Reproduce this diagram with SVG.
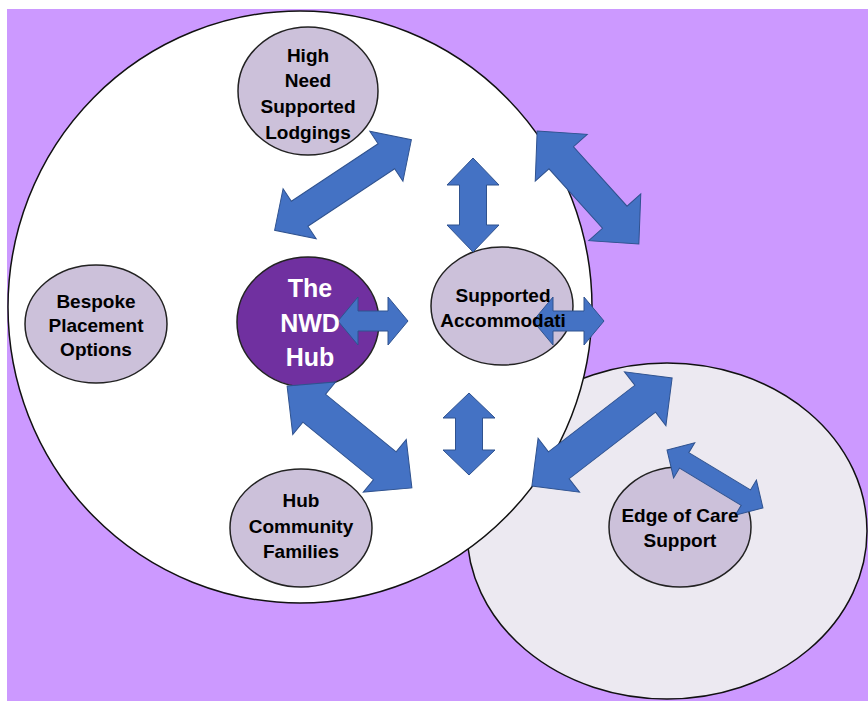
<svg xmlns="http://www.w3.org/2000/svg" width="868" height="701" viewBox="0 0 868 701">
  <style>
    .node { fill: #CCC1DA; stroke: #222; stroke-width: 1.5; }
    .hub { fill: #7030A0; stroke: #222; stroke-width: 1.5; }
    .zone { stroke: #111; stroke-width: 1.5; }
    .arrow { fill: #4472C4; stroke: #2F528F; stroke-width: 1; stroke-linejoin: miter; }
    .label { font-family: "Liberation Sans", Arial, sans-serif; font-weight: bold; font-size: 19px; fill: #000; text-anchor: middle; }
    .hub-label { font-family: "Liberation Sans", Arial, sans-serif; font-weight: bold; font-size: 25px; fill: #fff; text-anchor: middle; }
  </style>

  <!-- page background -->
  <rect x="0" y="0" width="868" height="701" fill="#ffffff"/>
  <rect x="7" y="9" width="861" height="692" fill="#CC99FF"/>

  <!-- outer zones -->
  <g id="zones">
    <ellipse id="edge-zone" class="zone" cx="667" cy="531" rx="200" ry="168" fill="#ECE9F1"/>
    <ellipse id="hub-zone" class="zone" cx="300" cy="307" rx="292" ry="296" fill="#ffffff"/>
  </g>

  <!-- node shapes -->
  <g id="node-lodgings"><ellipse class="node" cx="308" cy="91" rx="70" ry="64"/></g>
  <g id="node-bespoke"><ellipse class="node" cx="96" cy="324" rx="71" ry="59"/></g>
  <g id="node-hub"><ellipse class="hub" cx="308" cy="322" rx="71" ry="65"/></g>
  <g id="node-accommodation"><ellipse class="node" cx="502" cy="306" rx="71" ry="59"/></g>
  <g id="node-community"><ellipse class="node" cx="301" cy="528" rx="71" ry="59"/></g>
  <g id="node-edge"><ellipse class="node" cx="680" cy="527" rx="71" ry="60"/></g>

  <!-- double-headed block arrows, each drawn along x and rotated into place -->
  <g id="connectors">
    <!-- lodgings <-> hub: L164 a30 h30 s15 -->
    <polygon class="arrow" transform="translate(343 185) rotate(-33.5)" points="-82,0 -52,-30 -52,-15 52,-15 52,-30 82,0 52,30 52,15 -52,15 -52,30"/>
    <!-- lodgings <-> accommodation (vertical): L94 a27 h26 s13.5 -->
    <polygon class="arrow" transform="translate(473 205) rotate(90)" points="-47,0 -20,-26 -20,-13.5 20,-13.5 20,-26 47,0 20,26 20,13.5 -20,13.5 -20,26"/>
    <!-- upper outward diagonal: L152 a36 h35 s16.5 -->
    <polygon class="arrow" transform="translate(588 187.5) rotate(48)" points="-76,0 -40,-35 -40,-16.5 40,-16.5 40,-35 76,0 40,35 40,16.5 -40,16.5 -40,35"/>
    <!-- hub <-> accommodation: L70 a20 h24 s10 -->
    <polygon class="arrow" transform="translate(373 321)" points="-35,0 -15,-24 -15,-10 15,-10 15,-24 35,0 15,24 15,10 -15,10 -15,24"/>
    <!-- accommodation <-> outside: L71 a20 h24 s10 -->
    <polygon class="arrow" transform="translate(568.5 321)" points="-35.5,0 -15.5,-24 -15.5,-10 15.5,-10 15.5,-24 35.5,0 15.5,24 15.5,10 -15.5,10 -15.5,24"/>
    <!-- hub <-> community: L161 a35 h34 s18 -->
    <polygon class="arrow" transform="translate(349.5 437) rotate(39.2)" points="-80.5,0 -45.5,-34 -45.5,-18 45.5,-18 45.5,-34 80.5,0 45.5,34 45.5,18 -45.5,18 -45.5,34"/>
    <!-- accommodation <-> community (vertical): L82 a25 h26 s13.5 -->
    <polygon class="arrow" transform="translate(469 434) rotate(90)" points="-41,0 -16,-26 -16,-13.5 16,-13.5 16,-26 41,0 16,26 16,13.5 -16,13.5 -16,26"/>
    <!-- hub zone <-> edge of care zone: L177 a34 h34 s17 -->
    <polygon class="arrow" transform="translate(602 432) rotate(-37.6)" points="-88.5,0 -54.5,-34 -54.5,-17 54.5,-17 54.5,-34 88.5,0 54.5,34 54.5,17 -54.5,17 -54.5,34"/>
    <!-- edge of care link: L112 a20 h20.5 s9 -->
    <polygon class="arrow" transform="translate(715 479) rotate(31.1)" points="-56,0 -36,-20.5 -36,-9 36,-9 36,-20.5 56,0 36,20.5 36,9 -36,9 -36,20.5"/>
  </g>

  <!-- node labels -->
  <g id="labels">
    <text class="label" x="308"><tspan x="308" y="62">High</tspan><tspan x="308" y="87">Need</tspan><tspan x="308" y="113">Supported</tspan><tspan x="308" y="139">Lodgings</tspan></text>
    <text class="label"><tspan x="96" y="308">Bespoke</tspan><tspan x="96" y="332">Placement</tspan><tspan x="96" y="356">Options</tspan></text>
    <text class="hub-label"><tspan x="310" y="297">The</tspan><tspan x="310" y="332">NWD</tspan><tspan x="310" y="366">Hub</tspan></text>
    <text class="label"><tspan x="503" y="302">Supported</tspan><tspan x="503" y="327">Accommodati</tspan></text>
    <text class="label"><tspan x="301" y="507">Hub</tspan><tspan x="301" y="533">Community</tspan><tspan x="301" y="558">Families</tspan></text>
    <text class="label"><tspan x="680" y="522">Edge of Care</tspan><tspan x="680" y="547">Support</tspan></text>
  </g>
</svg>
